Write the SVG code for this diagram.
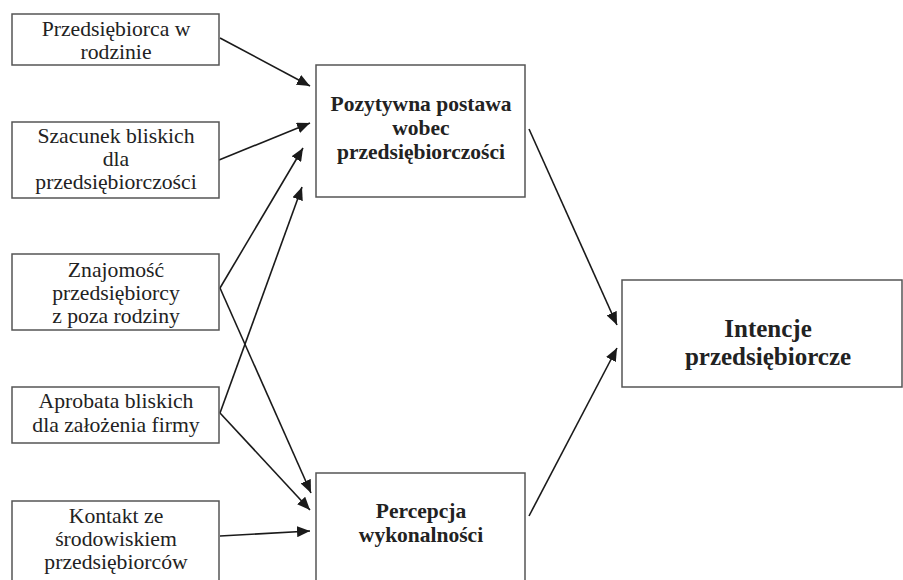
<svg xmlns="http://www.w3.org/2000/svg" width="903" height="580" viewBox="0 0 903 580">
<style>
.box{fill:#fff;stroke:#555;stroke-width:1.5}
.t{font-family:"Liberation Serif","Times New Roman",serif;font-size:21.7px;fill:#222;text-anchor:middle}
.b{font-weight:bold;font-size:21.5px}
.big{font-size:25px}
.c{stroke:#1a1a1a;stroke-width:1.6;fill:none;marker-end:url(#ah)}
</style>
<defs>
<marker id="ah" markerUnits="userSpaceOnUse" markerWidth="13" markerHeight="11" refX="13" refY="5.5" orient="auto">
<path d="M0,0 L13,5.5 L0,11 z" fill="#1a1a1a"/>
</marker>
</defs>
<rect width="903" height="580" fill="#fff"/>
<g id="connectors">
<line class="c" x1="220" y1="38" x2="310" y2="86"/>
<line class="c" x1="219" y1="160" x2="310" y2="123"/>
<line class="c" x1="220" y1="288" x2="303" y2="148"/>
<line class="c" x1="220" y1="413" x2="302" y2="187"/>
<line class="c" x1="220" y1="288" x2="311" y2="493"/>
<line class="c" x1="220" y1="413" x2="310" y2="510"/>
<line class="c" x1="220" y1="536" x2="310" y2="531"/>
<line class="c" x1="529" y1="129" x2="617" y2="325"/>
<line class="c" x1="529" y1="516" x2="617" y2="348"/>
</g>
<g id="n1">
<rect class="box" x="12" y="14" width="207" height="51"/>
<text class="t" x="116" y="36">Przedsiębiorca w</text>
<text class="t" x="116" y="59">rodzinie</text>
</g>
<g id="n2">
<rect class="box" x="12" y="122" width="207" height="76"/>
<text class="t" x="116" y="143">Szacunek bliskich</text>
<text class="t" x="116" y="166">dla</text>
<text class="t" x="116" y="189">przedsiębiorczości</text>
</g>
<g id="n3">
<rect class="box" x="12" y="254" width="207" height="76"/>
<text class="t" x="116" y="277">Znajomość</text>
<text class="t" x="116" y="300">przedsiębiorcy</text>
<text class="t" x="116" y="323">z poza rodziny</text>
</g>
<g id="n4">
<rect class="box" x="12" y="387" width="207" height="56"/>
<text class="t" x="116" y="408">Aprobata bliskich</text>
<text class="t" x="116" y="432">dla założenia firmy</text>
</g>
<g id="n5">
<rect class="box" x="12" y="501" width="207" height="100"/>
<text class="t" x="116" y="523">Kontakt ze</text>
<text class="t" x="116" y="546">środowiskiem</text>
<text class="t" x="116" y="569">przedsiębiorców</text>
</g>
<g id="n6">
<rect class="box" x="316" y="65" width="209" height="132"/>
<text class="t b" x="421" y="111">Pozytywna postawa</text>
<text class="t b" x="421" y="135">wobec</text>
<text class="t b" x="421" y="159">przedsiębiorczości</text>
</g>
<g id="n7">
<rect class="box" x="316" y="473" width="209" height="130"/>
<text class="t b" x="421" y="518">Percepcja</text>
<text class="t b" x="421" y="542">wykonalności</text>
</g>
<g id="n8">
<rect class="box" x="622" y="280" width="280" height="107"/>
<text class="t b big" x="768" y="337">Intencje</text>
<text class="t b big" x="768" y="365">przedsiębiorcze</text>
</g>
</svg>
